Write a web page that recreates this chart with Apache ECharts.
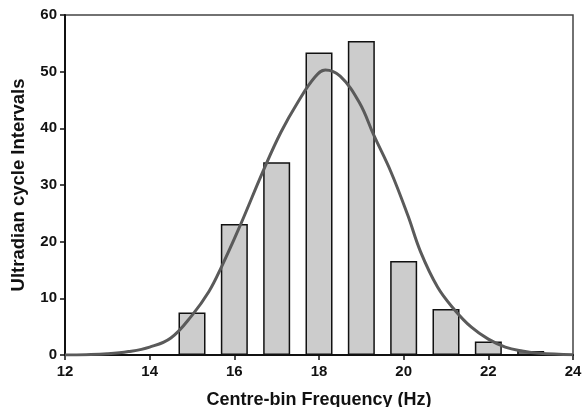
<!DOCTYPE html>
<html>
<head>
<meta charset="utf-8">
<script src="https://cdn.jsdelivr.net/npm/echarts@6/dist/echarts.min.js"></script>
<style>
  html, body { margin: 0; padding: 0; background: #fff; }
  #chart { width: 582px; height: 407px; }
</style>
</head>
<body>
<div id="chart"></div>
<script>
  // histogram bins (Hz) and counts
  const binCentres = [15, 16, 17, 18, 19, 20, 21, 22, 23]
  const counts = [7.5, 23.1, 34.0, 53.4, 55.4, 16.6, 8.1, 2.4, 0.7]

  // fitted curve
  const curveX = [12.0, 12.5, 13.0, 13.5, 14.0, 14.5, 15.0, 15.4, 15.7, 16.1, 16.7, 17.1, 17.5, 17.9, 18.15,
    18.5, 18.95, 19.3, 19.7, 20.1, 20.4, 20.8, 21.2, 21.6, 22.0, 22.4, 22.8, 23.2, 24.0]
  const curveY = [0, 0.05, 0.2, 0.6, 1.4, 3.0, 7.0, 11.2, 15.6, 22.2, 32.8, 39.3, 44.6, 49.0, 50.3,
    49.2, 44.6, 38.7, 32.3, 24.6, 18.2, 12.0, 8.0, 4.9, 2.8, 1.4, 0.7, 0.3, 0.05]

  const xTicks = { min: 12, max: 24, step: 2 }
  const yTicks = { min: 0, max: 60, step: 10 }

  const font = 'Liberation Sans, Arial, sans-serif'

  let chart = echarts.init(document.getElementById('chart'))

  let option = {
    animation: false,
    grid: {
      left: 65,
      right: 9,
      top: 15,
      bottom: 52,
      outerBoundsMode: 'none',
      show: true,
      borderColor: '#444',
      borderWidth: 1.5,
      backgroundColor: '#fff'
    },
    xAxis: {
      type: 'value',
      min: xTicks.min,
      max: xTicks.max,
      interval: xTicks.step,
      name: 'Centre-bin Frequency (Hz)',
      nameLocation: 'middle',
      nameGap: 36,
      nameTextStyle: {
        fontFamily: font,
        fontWeight: 'bold',
        fontSize: 18,
        color: '#111'
      },
      axisLine: {
        onZero: false,
        lineStyle: { color: '#111', width: 2 }
      },
      axisTick: {
        show: true,
        length: 5,
        lineStyle: { color: '#111', width: 1.5 }
      },
      splitLine: { show: false },
      axisLabel: {
        margin: 9,
        fontFamily: font,
        fontWeight: 'bold',
        fontSize: 15,
        color: '#111'
      }
    },
    yAxis: {
      type: 'value',
      min: yTicks.min,
      max: yTicks.max,
      interval: yTicks.step,
      name: 'Ultradian cycle Intervals',
      nameLocation: 'middle',
      nameRotate: 90,
      nameGap: 37,
      nameTextStyle: {
        fontFamily: font,
        fontWeight: 'bold',
        fontSize: 18.5,
        color: '#111'
      },
      axisLine: {
        show: true,
        lineStyle: { color: '#111', width: 2 }
      },
      axisTick: {
        show: true,
        length: 5,
        lineStyle: { color: '#111', width: 1.5 }
      },
      splitLine: { show: false },
      axisLabel: {
        margin: 8,
        fontFamily: font,
        fontWeight: 'bold',
        fontSize: 15,
        color: '#111'
      }
    },
    series: [{
      type: 'bar',
      data: binCentres.map((x, i) => [x, counts[i]]),
      barWidth: 27,
      itemStyle: {
        color: '#cccccc',
        borderColor: '#111',
        borderWidth: 1.5
      },
      z: 2
    }, {
      type: 'line',
      data: curveX.map((x, i) => [x, curveY[i]]),
      smooth: 0.4,
      showSymbol: false,
      lineStyle: {
        color: '#5a5a5a',
        width: 3
      },
      z: 3
    }]
  }

  chart.setOption(option)
</script>
</body>
</html>
